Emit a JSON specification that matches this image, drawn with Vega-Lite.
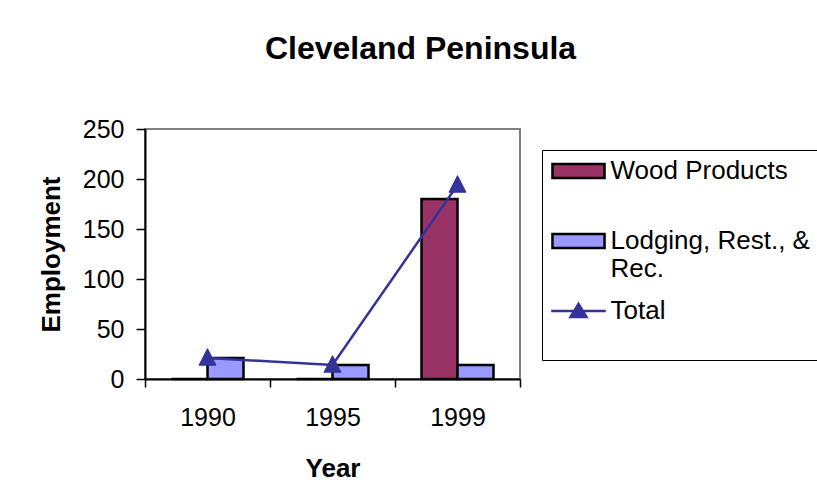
{
  "$schema": "https://vega.github.io/schema/vega-lite/v6.json",
  "width": 375,
  "height": 250,
  "autosize": {"type": "none"},
  "padding": {"left": 145, "top": 129, "right": 297, "bottom": 123},
  "background": "white",
  "title": {
    "text": "Cleveland Peninsula",
    "font": "Liberation Sans",
    "fontSize": 32,
    "fontWeight": "bold",
    "color": "black",
    "anchor": "middle",
    "frame": "group",
    "dx": 88,
    "baseline": "alphabetic",
    "offset": 26
  },
  "config": {
    "font": "Liberation Sans",
    "view": {"stroke": "#808080", "strokeWidth": 2},
    "axis": {
      "labelFont": "Liberation Sans",
      "labelFontSize": 25,
      "labelColor": "black",
      "titleFont": "Liberation Sans",
      "titleFontSize": 26,
      "titleFontWeight": "bold",
      "titleColor": "black",
      "domainColor": "black",
      "domainWidth": 2,
      "tickColor": "black",
      "tickWidth": 1.5,
      "grid": false
    },
    "legend": {
      "labelFont": "Liberation Sans",
      "labelFontSize": 26,
      "labelColor": "black",
      "labelLimit": 400,
      "title": null,
      "orient": "none",
      "legendX": 397,
      "legendY": 21,
      "padding": 8,
      "strokeColor": "black",
      "fillColor": "white",
      "symbolSize": 441,
      "symbolOffset": 15.5,
      "symbolStrokeWidth": 2.5,
      "labelOffset": 19,
      "rowPadding": 16,
      "gridAlign": "all",
      "labelBaseline": "middle"
    }
  },
  "datasets": {
    "bars": [
      {"year": "1990", "series": "Wood Products", "value": 0},
      {"year": "1990", "series": "Lodging, Rest., & Rec.", "value": 21},
      {"year": "1995", "series": "Wood Products", "value": 0},
      {"year": "1995", "series": "Lodging, Rest., & Rec.", "value": 14},
      {"year": "1999", "series": "Wood Products", "value": 180},
      {"year": "1999", "series": "Lodging, Rest., & Rec.", "value": 14}
    ],
    "totals": [
      {"year": "1990", "series": "Total", "value": 21},
      {"year": "1995", "series": "Total", "value": 14},
      {"year": "1999", "series": "Total", "value": 194}
    ]
  },
  "encoding": {
    "x": {
      "field": "year",
      "type": "ordinal",
      "title": "Year",
      "scale": {"paddingInner": 0, "paddingOuter": 0},
      "axis": {
        "labelAngle": 0,
        "tickBand": "extent",
        "tickSize": 8,
        "labelPadding": 18,
        "titlePadding": 25
      }
    },
    "y": {
      "field": "value",
      "type": "quantitative",
      "title": "Employment",
      "scale": {"domain": [0, 250], "nice": false},
      "axis": {
        "values": [0, 50, 100, 150, 200, 250],
        "tickSize": 9,
        "labelPadding": 12,
        "titlePadding": 18
      }
    }
  },
  "layer": [
    {
      "data": {"name": "bars"},
      "mark": {"type": "bar", "stroke": "black", "strokeWidth": 2.5},
      "encoding": {
        "xOffset": {
          "field": "series",
          "type": "nominal",
          "sort": ["Wood Products", "Lodging, Rest., & Rec."],
          "scale": {"domain": ["Wood Products", "Lodging, Rest., & Rec."], "paddingInner": 0, "paddingOuter": 0.736}
        },
        "fill": {
          "field": "series",
          "type": "nominal",
          "scale": {
            "domain": ["Wood Products", "Lodging, Rest., & Rec.", "Total"],
            "range": ["#993366", "#9999FF", "#333399"]
          },
          "legend": {
            "labelExpr": "datum.label === 'Lodging, Rest., & Rec.' ? ['Lodging, Rest., &', 'Rec.'] : datum.label === 'Total' ? ['Total', ' '] : datum.label"
          }
        }
      }
    },
    {
      "data": {"name": "totals"},
      "mark": {"type": "line", "stroke": "#333399", "strokeWidth": 2.5},
      "encoding": {}
    },
    {
      "data": {"name": "totals"},
      "mark": {"type": "point", "filled": true, "opacity": 1, "fill": "#333399", "stroke": "#333399", "strokeWidth": 1, "size": 289, "shape": "M0,-1.1L1,0.85H-1Z"},
      "encoding": {}
    },
    {
      "data": {"name": "totals"},
      "transform": [{"filter": "false"}],
      "mark": {"type": "point", "filled": true, "opacity": 1, "strokeWidth": 2.5},
      "encoding": {
        "fill": {"field": "series", "type": "nominal"},
        "stroke": {
          "field": "series",
          "type": "nominal",
          "scale": {
            "domain": ["Wood Products", "Lodging, Rest., & Rec.", "Total"],
            "range": ["black", "black", "#333399"]
          }
        },
        "shape": {
          "field": "series",
          "type": "nominal",
          "scale": {
            "domain": ["Wood Products", "Lodging, Rest., & Rec.", "Total"],
            "range": ["M-2.48,-0.67H2.48V0.67H-2.48Z", "M-2.48,-0.67H2.48V0.67H-2.48Z", "M-2.6,0H2.6M0,-0.67L0.76,0.57H-0.76Z"]
          }
        }
      }
    }
  ]
}
